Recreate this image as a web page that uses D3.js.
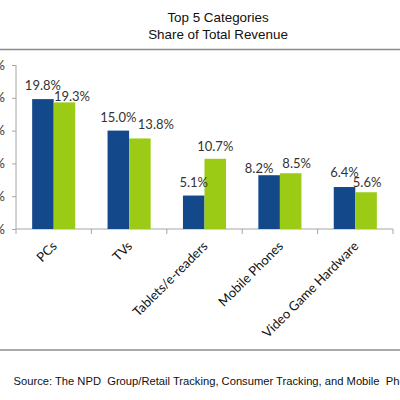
<!DOCTYPE html>
<meta charset="utf-8">
<style>
  body { margin: 0; background: #fff; }
  .title { font-family: "Liberation Sans", Arial, sans-serif; font-size: 13.4px; fill: #111; text-anchor: middle; }
  .source { font-family: "Liberation Sans", Arial, sans-serif; font-size: 11.2px; fill: #111; white-space: pre; }
  .frame { stroke: #8c8c8c; stroke-width: 1.5; }
  .axis path, .axis line { stroke: #a6a6a6; }
  .axis text { font-family: Lato, "Open Sans", sans-serif; font-size: 13px; fill: #333; }
  .value { font-family: Lato, "Open Sans", sans-serif; font-size: 13px; fill: #333; text-anchor: middle; }
  .cat { font-family: Lato, "Open Sans", sans-serif; font-size: 13px; fill: #111; text-anchor: end; }
</style>
<svg width="400" height="400"></svg>
<script src="https://d3js.org/d3.v7.min.js"></script>
<script>

// data
var categories = ['PCs', 'TVs', 'Tablets/e-readers', 'Mobile Phones', 'Video Game Hardware'];
var series = ['prev', 'curr'];
var prevValues = [19.8, 15.0, 5.1, 8.2, 6.4];
var currValues = [19.3, 13.8, 10.7, 8.5, 5.6];
var yTicks = [0, 5, 10, 15, 20, 25];
var titleLines = ['Top 5 Categories', 'Share of Total Revenue'];
var sourceText = 'Source: The NPD  Group/Retail Tracking, Consumer Tracking, and Mobile  Phone Track';

// layout tweaks for the value labels (Excel moved some of them)
var prevNudge = [[0, -9], [0, -9], [0, -8.5], [-10, -2.5], [0, -10]];
var currNudge = [[7.5, -1.5], [16, -9], [0, -8], [6, -5.5], [1, -5]];

var colors = { prev: '#13498a', curr: '#9bcb14' };

var svg = d3.select('svg');

// title
svg.selectAll('.title')
    .data(titleLines)
    .enter().append('text')
    .attr('class', 'title')
    .attr('x', 218)
    .attr('y', function(d, i) { return 21.5 + i * 17; })
    .text(function(d) { return d; });

// frame lines
svg.append('line').attr('class', 'frame').attr('x1', 0).attr('x2', 400).attr('y1', 49.5).attr('y2', 49.5);
svg.append('line').attr('class', 'frame').attr('x1', 0).attr('x2', 400).attr('y1', 350).attr('y2', 350);

// scales
var x0 = d3.scaleBand()
    .domain(categories)
    .range([16, 393]);

var x1 = d3.scaleBand()
    .domain(series)
    .range([0, x0.bandwidth()])
    .paddingOuter(0.75);

var y = d3.scaleLinear()
    .domain([0, 25])
    .range([229, 65]);

// y axis
svg.append('g')
    .attr('class', 'axis')
    .attr('transform', 'translate(16,0)')
    .call(d3.axisLeft(y)
        .tickValues(yTicks)
        .tickSize(4)
        .tickPadding(7)
        .tickFormat(function(d) { return d + '%'; }))
    .call(function(g) { g.select('.domain').attr('d', 'M0,' + y(25) + 'V' + y(0)); });

// x axis
var xAxis = svg.append('g').attr('class', 'axis');
xAxis.append('line')
    .attr('x1', x0.range()[0]).attr('x2', x0.range()[1])
    .attr('y1', y(0)).attr('y2', y(0));
xAxis.selectAll('.tick')
    .data(categories.map(function(c) { return x0(c); }).concat([x0.range()[1]]))
    .enter().append('line')
    .attr('x1', function(d) { return d; }).attr('x2', function(d) { return d; })
    .attr('y1', y(0)).attr('y2', y(0) + 5);

svg.selectAll('.cat')
    .data(categories)
    .enter().append('text')
    .attr('class', 'cat')
    .attr('transform', function(d) {
        return 'translate(' + (x0(d) + x0.bandwidth() / 2 + 4) + ',247) rotate(-45)';
    })
    .text(function(d) { return d; });

// bars
var rows = categories.map(function(c, i) {
    return [
        { cat: c, key: 'prev', value: prevValues[i], nudge: prevNudge[i] },
        { cat: c, key: 'curr', value: currValues[i], nudge: currNudge[i] }
    ];
});

var groups = svg.append('g')
    .selectAll('g')
    .data(rows)
    .enter().append('g')
    .attr('transform', function(d) { return 'translate(' + x0(d[0].cat) + ',0)'; });

groups.selectAll('rect')
    .data(function(d) { return d; })
    .enter().append('rect')
    .attr('x', function(d) { return x1(d.key); })
    .attr('width', x1.bandwidth())
    .attr('y', function(d) { return y(d.value); })
    .attr('height', function(d) { return y(0) - y(d.value); })
    .attr('fill', function(d) { return colors[d.key]; });

groups.selectAll('.value')
    .data(function(d) { return d; })
    .enter().append('text')
    .attr('class', 'value')
    .attr('x', function(d) { return x1(d.key) + x1.bandwidth() / 2 + d.nudge[0]; })
    .attr('y', function(d) { return y(d.value) + d.nudge[1]; })
    .text(function(d) { return d.value.toFixed(1) + '%'; });

// source
svg.append('text')
    .attr('class', 'source')
    .attr('x', 13.5)
    .attr('y', 385)
    .text(sourceText);

</script>
